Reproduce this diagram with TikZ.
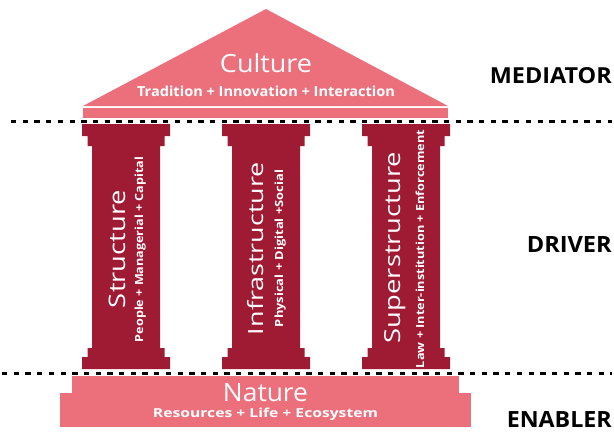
\documentclass[tikz,border=0pt]{standalone}
\usepackage{fontspec}
\setmainfont{Open Sans}
\usepackage{graphicx}
\definecolor{roofpink}{HTML}{EC707C}
\definecolor{pillarred}{HTML}{9F1B33}
\tikzset{
  pinkfill/.style={fill=roofpink},
  pillarfill/.style={fill=pillarred},
  dashline/.style={line width=3pt, dash pattern=on 5.3pt off 6.4pt, black},
  wtext/.style={text=white, inner sep=0pt},
  lvl/.style={text=black, inner sep=0pt, anchor=base east, font=\bfseries},
}
\begin{document}
\begin{tikzpicture}[x=1pt,y=-1pt]
\useasboundingbox (0,0) rectangle (614,432);
% roof
\fill[pinkfill] (266,9) -- (448,106) -- (83,106) -- cycle;
\fill[pinkfill] (83,108) rectangle (448,118);
% pillars
\foreach \c in {126,266,406}{
  \fill[pillarfill] ({\c-44},124) -- ({\c+44},124) -- ({\c+44},136) -- ({\c+38.5},136) -- ({\c+38.5},146) -- ({\c+34},146)
    -- ({\c+34},348) -- ({\c+38.5},348) -- ({\c+38.5},357) -- ({\c+44},357) -- ({\c+44},369)
    -- ({\c-44},369) -- ({\c-44},357) -- ({\c-38.5},357) -- ({\c-38.5},348) -- ({\c-34},348)
    -- ({\c-34},146) -- ({\c-38.5},146) -- ({\c-38.5},136) -- ({\c-44},136) -- cycle;
}
% base
\fill[pinkfill] (72,376) rectangle (459,394);
\fill[pinkfill] (60,393) rectangle (471,427);
% dashed lines
\coordinate (t1) at (11,121.5); \coordinate (t2) at (612,121.5);
\coordinate (b1) at (2,373); \coordinate (b2) at (612,373);
\draw[dashline] (t1) -- (t2);
\draw[dashline] (b1) -- (b2);
% roof text
\node[wtext, anchor=base] (culture) at (266,72) {\resizebox{92pt}{19pt}{Culture}};
\node[wtext, anchor=base] (culturesub) at (266,96) {\resizebox{258pt}{10.5pt}{\bfseries Tradition + Innovation + Interaction}};
% pillar text
\node[wtext, anchor=base, rotate=90] (structure) at (125,249) {\resizebox{118pt}{16.5pt}{Structure}};
\node[wtext, anchor=base, rotate=90] (structuresub) at (143,249.5) {\resizebox{185pt}{8.5pt}{\bfseries People + Managerial + Capital}};
\node[wtext, anchor=base, rotate=90] (infra) at (263,248.5) {\resizebox{173pt}{16pt}{Infrastructure}};
\node[wtext, anchor=base, rotate=90] (infrasub) at (283,248.5) {\resizebox{157pt}{8.5pt}{\bfseries Physical + Digital +Social}};
\node[wtext, anchor=base, rotate=90] (super) at (400,247.5) {\resizebox{191pt}{16pt}{Superstructure}};
\node[wtext, anchor=base, rotate=90] (supersub) at (424,249) {\resizebox{238pt}{8.5pt}{\bfseries Law + Inter-institution + Enforcement}};
% base text
\node[wtext, anchor=base] (nature) at (265.5,401.5) {\resizebox{85pt}{18pt}{Nature}};
\node[wtext, anchor=base] (naturesub) at (265.5,417.5) {\resizebox{225pt}{9.5pt}{\bfseries Resources + Life + Ecosystem}};
% level labels
\node[lvl] (mediator) at (612,83) {\resizebox{122pt}{16pt}{MEDIATOR}};
\node[lvl] (driver) at (612,252) {\resizebox{85pt}{16pt}{DRIVER}};
\node[lvl] (enabler) at (612,427) {\resizebox{105pt}{16pt}{ENABLER}};
\end{tikzpicture}
\end{document}
